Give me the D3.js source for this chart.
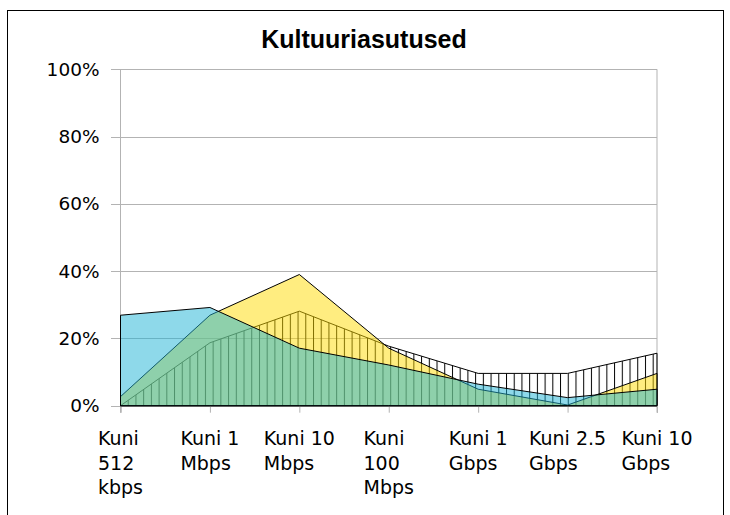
<!DOCTYPE html>
<html>
<head>
<meta charset="utf-8">
<script src="https://cdn.jsdelivr.net/npm/d3@7"></script>
<style>
  body { margin: 0; background: #fff; }
  svg { display: block; }
</style>
</head>
<body>
<div id="chart"></div>
<script>
// values (percent)
const categories = ["Kuni 512 kbps", "Kuni 1 Mbps", "Kuni 10 Mbps", "Kuni 100 Mbps", "Kuni 1 Gbps", "Kuni 2.5 Gbps", "Kuni 10 Gbps"];
const tickLines = [["Kuni", "512", "kbps"], ["Kuni 1", "Mbps"], ["Kuni 10", "Mbps"], ["Kuni", "100", "Mbps"], ["Kuni 1", "Gbps"], ["Kuni 2.5", "Gbps"], ["Kuni 10", "Gbps"]];
const hatchValues = [0, 18.7, 28.1, 17.7, 9.6, 9.6, 15.6];
const yellowValues = [2.7, 26.9, 39.0, 17.1, 4.9, 0.2, 9.6];
const blueValues = [26.9, 29.2, 17.1, 12.1, 6.4, 2.4, 4.9];
const yTicks = [0, 20, 40, 60, 80, 100];

const width = 730, height = 515;
const plot = {left: 120.5, right: 657, top: 69.3, bottom: 405.7};

const svg = d3.select("#chart")
              .append("svg")
              .attr("width", width)
              .attr("height", height);

// outer frame (bottom edge runs off the picture)
svg.append("rect")
   .attr("x", 7.5).attr("y", 10.5)
   .attr("width", 716).attr("height", 530)
   .attr("fill", "none")
   .attr("stroke", "#000")
   .attr("stroke-width", 1);

svg.append("text")
   .attr("x", 364).attr("y", 48)
   .attr("text-anchor", "middle")
   .style("font-family", "'Liberation Sans', Arial, sans-serif")
   .style("font-weight", "bold")
   .style("font-size", "25px")
   .text("Kultuuriasutused");

const x = d3.scalePoint()
            .domain(categories)
            .range([plot.left, plot.right]);

const y = d3.scaleLinear()
            .domain([0, 100])
            .range([plot.bottom, plot.top]);

// hatch pattern: vertical lines
const defs = svg.append("defs");
const pat = defs.append("pattern")
                .attr("id", "vhatch")
                .attr("patternUnits", "userSpaceOnUse")
                .attr("x", plot.left - 0.5)
                .attr("y", 0)
                .attr("width", 7.72)
                .attr("height", 10);
pat.append("line")
   .attr("x1", 0.5).attr("x2", 0.5)
   .attr("y1", 0).attr("y2", 10)
   .attr("stroke", "#000")
   .attr("stroke-width", 1);

// y grid + axis
const yAxis = svg.append("g")
                 .attr("transform", "translate(" + plot.left + ",0)")
                 .call(d3.axisLeft(y)
                         .tickValues(yTicks)
                         .tickSize(-(plot.right - plot.left))
                         .tickPadding(21)
                         .tickFormat(function (d) { return d + "%"; }));
yAxis.select(".domain").remove();
yAxis.selectAll(".tick line")
     .attr("x1", -9.5)
     .attr("stroke", "#b3b3b3")
     .attr("shape-rendering", "crispEdges");
yAxis.selectAll(".tick text")
     .style("font-family", "'DejaVu Sans', sans-serif")
     .style("font-size", "18.5px")
     .attr("fill", "#000");

// left and right vertical lines
svg.append("line")
   .attr("x1", plot.left).attr("x2", plot.left)
   .attr("y1", plot.top).attr("y2", plot.bottom + 7)
   .attr("stroke", "#b3b3b3");
svg.append("line")
   .attr("x1", plot.right).attr("x2", plot.right)
   .attr("y1", plot.top).attr("y2", plot.bottom + 7)
   .attr("stroke", "#b3b3b3");

// x axis ticks and labels
const xAxis = svg.append("g")
                 .attr("transform", "translate(0," + plot.bottom + ")")
                 .call(d3.axisBottom(x).tickSize(7).tickFormat(""));
xAxis.select(".domain").attr("stroke", "#b3b3b3");
xAxis.selectAll(".tick line").attr("stroke", "#b3b3b3");

const labels = svg.append("g")
                  .style("font-family", "'DejaVu Sans', sans-serif")
                  .style("font-size", "19px");
categories.forEach(function (c, i) {
    const t = labels.append("text").attr("y", 445);
    tickLines[i].forEach(function (line, j) {
        t.append("tspan")
         .attr("dy", j === 0 ? 0 : 24.5)
         .text(line);
    });
    let maxW = 0;
    t.selectAll("tspan").each(function () {
        maxW = Math.max(maxW, this.getComputedTextLength());
    });
    const left = x(c) - maxW / 2;
    t.selectAll("tspan").attr("x", left);
});

// areas
const area = function (vals) {
    return d3.area()
             .x(function (d, i) { return x(categories[i]); })
             .y0(y(0))
             .y1(function (d) { return y(d); })(vals) + "Z";
};

svg.append("path")
   .attr("d", area(hatchValues))
   .attr("fill", "url(#vhatch)")
   .attr("stroke", "#000")
   .attr("stroke-width", 1)
   .attr("stroke-linejoin", "round");

svg.append("path")
   .attr("d", area(yellowValues))
   .attr("fill", "#ffdb02")
   .attr("fill-opacity", 0.5)
   .attr("stroke", "#000")
   .attr("stroke-width", 1)
   .attr("stroke-linejoin", "round");

svg.append("path")
   .attr("d", area(blueValues))
   .attr("fill", "#1db3d5")
   .attr("fill-opacity", 0.5)
   .attr("stroke", "#000")
   .attr("stroke-width", 1)
   .attr("stroke-linejoin", "round");
</script>
</body>
</html>
